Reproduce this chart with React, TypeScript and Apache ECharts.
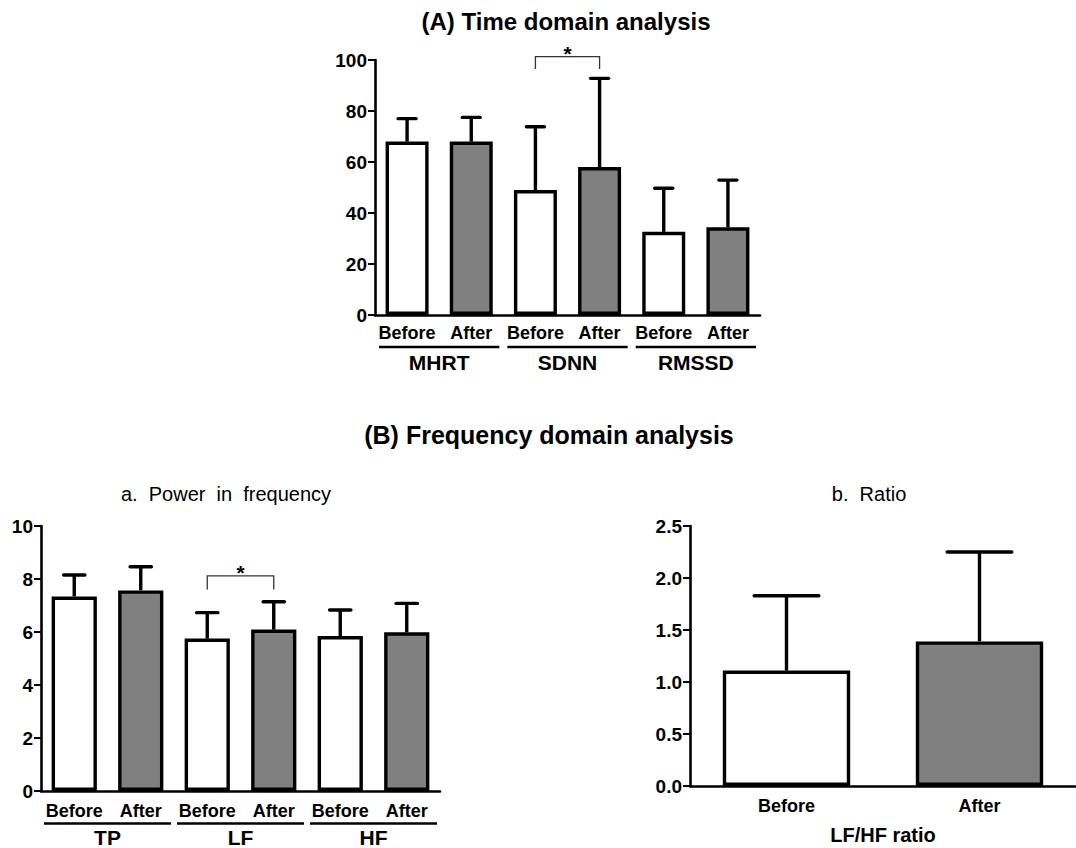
import React, { useEffect, useRef } from "react";
import * as echarts from "echarts";

const FONT = "'Liberation Sans', Arial, Helvetica, sans-serif";

// ---- Data ----
const phases = ["Before", "After"];
const phaseColors = ["#ffffff", "#808080"];

// (A) Time domain analysis
const timeGroups = ["MHRT", "SDNN", "RMSSD"];
const timeBeforeMean = [68.0, 49.0, 32.6];
const timeBeforeSD = [9.0, 24.8, 17.1];
const timeAfterMean = [68.0, 58.0, 34.4];
const timeAfterSD = [9.5, 34.8, 18.5];
const timeAxisMax = 100;
const timeAxisInterval = 20;
const timeSigPair = [2, 3]; // SDNN Before vs After
const timeSigLevel = [101.3, 96.5]; // bracket top, leg bottom

// (B) a. Power in frequency
const freqGroups = ["TP", "LF", "HF"];
const freqBeforeMean = [7.34, 5.75, 5.85];
const freqBeforeSD = [0.81, 0.98, 0.98];
const freqAfterMean = [7.57, 6.09, 5.99];
const freqAfterSD = [0.89, 1.05, 1.09];
const freqAxisMax = 10;
const freqAxisInterval = 2;
const freqSigPair = [2, 3]; // LF Before vs After
const freqSigLevel = [8.12, 7.6];

// (B) b. Ratio
const ratioCategories = ["Before", "After"];
const ratioMean = [1.11, 1.39];
const ratioSD = [0.72, 0.86];
const ratioAxisMax = 2.5;
const ratioAxisInterval = 0.5;

// ---- helpers ----
function interleave(groups: string[], before: number[], after: number[]) {
  const cats: string[] = [];
  const vals: number[] = [];
  const colors: string[] = [];
  groups.forEach((g, k) => {
    cats.push(`${g}|${phases[0]}`);
    vals.push(before[k]);
    colors.push(phaseColors[0]);
    cats.push(`${g}|${phases[1]}`);
    vals.push(after[k]);
    colors.push(phaseColors[1]);
  });
  return { cats, vals, colors };
}

function barSeries(gi: number, vals: number[], colors: string[], barWidth: string) {
  return {
    type: "bar",
    xAxisIndex: gi,
    yAxisIndex: gi,
    barWidth,
    z: 2,
    data: vals.map((v, i) => ({
      value: v,
      itemStyle: { color: colors[i], borderColor: "#000", borderWidth: 3.4 },
    })),
  };
}

function errorSeries(gi: number, means: number[], sds: number[], capRatio: number) {
  return {
    type: "custom",
    xAxisIndex: gi,
    yAxisIndex: gi,
    z: 5,
    silent: true,
    encode: { x: 0, y: 1 },
    data: means.map((m, i) => [i, m + sds[i], m]),
    renderItem: (params: any, api: any) => {
      const i = api.value(0);
      const up = api.value(1);
      const m = api.value(2);
      const p0 = api.coord([i, m]);
      const p1 = api.coord([i, up]);
      const half = (api.size([1, 0])[0] * capRatio) / 2;
      return {
        type: "group",
        children: [
          {
            type: "line",
            shape: { x1: p0[0], y1: p0[1], x2: p1[0], y2: p1[1] },
            style: { stroke: "#000", lineWidth: 3.4 },
          },
          {
            type: "line",
            shape: { x1: p1[0] - half, y1: p1[1], x2: p1[0] + half, y2: p1[1] },
            style: { stroke: "#000", lineWidth: 3.4, lineCap: "round" },
          },
        ],
      };
    },
  };
}

function groupSeries(gi: number, groups: string[], inset: number, lineOffset: number, textOffset: number) {
  return {
    type: "custom",
    xAxisIndex: gi,
    yAxisIndex: gi,
    silent: true,
    encode: { x: 0, y: 1 },
    data: groups.map((g, k) => [2 * k, 0, 2 * k + 1]),
    renderItem: (params: any, api: any) => {
      const a = api.coord([api.value(0), 0]);
      const b = api.coord([api.value(2), 0]);
      const band = api.size([1, 0])[0];
      const x0 = a[0] - band / 2 + inset;
      const x1 = b[0] + band / 2 - inset;
      const y = a[1] + lineOffset;
      return {
        type: "group",
        children: [
          {
            type: "line",
            shape: { x1: x0, y1: y, x2: x1, y2: y },
            style: { stroke: "#000", lineWidth: 2.6 },
          },
          {
            type: "text",
            x: (x0 + x1) / 2,
            y: y + textOffset,
            style: {
              text: groups[params.dataIndex],
              fontSize: 21,
              fontWeight: "bold",
              fontFamily: FONT,
              fill: "#000",
              align: "center",
              verticalAlign: "middle",
            },
          },
        ],
      };
    },
  };
}

function sigSeries(gi: number, pair: number[], level: number[]) {
  return {
    type: "custom",
    xAxisIndex: gi,
    yAxisIndex: gi,
    silent: true,
    z: 6,
    encode: { x: 0, y: 1 },
    data: [[pair[0], level[0], pair[1], level[1]]],
    renderItem: (params: any, api: any) => {
      const a = api.coord([api.value(0), api.value(1)]);
      const b = api.coord([api.value(2), api.value(1)]);
      const leg = api.coord([api.value(0), api.value(3)]);
      return {
        type: "group",
        children: [
          {
            type: "polyline",
            shape: {
              points: [
                [a[0], leg[1]],
                [a[0], a[1]],
                [b[0], b[1]],
                [b[0], leg[1]],
              ],
            },
            style: { stroke: "#333", lineWidth: 1.3, fill: null },
          },
          {
            type: "text",
            x: (a[0] + b[0]) / 2,
            y: a[1] - 3,
            style: {
              text: "*",
              fontSize: 21,
              fontWeight: "bold",
              fontFamily: FONT,
              fill: "#000",
              align: "center",
              verticalAlign: "middle",
            },
          },
        ],
      };
    },
  };
}

function xAxis(gi: number, cats: string[], margin: number, split: boolean, extra: any = {}) {
  return {
    gridIndex: gi,
    type: "category",
    data: cats,
    axisLine: { lineStyle: { color: "#000", width: 2.6 } },
    axisTick: { alignWithLabel: true, length: 7, lineStyle: { color: "#000", width: 2 } },
    axisLabel: {
      color: "#000",
      fontWeight: "bold",
      fontSize: 18,
      fontFamily: FONT,
      margin,
      interval: 0,
      formatter: (v: string) => (split ? v.split("|")[1] : v),
    },
    splitLine: { show: false },
    ...extra,
  };
}

function yAxis(gi: number, max: number, interval: number, decimals: number) {
  return {
    gridIndex: gi,
    type: "value",
    min: 0,
    max,
    interval,
    axisLine: { show: true, lineStyle: { color: "#000", width: 2.6 } },
    axisTick: { show: true, length: 7, lineStyle: { color: "#000", width: 2 } },
    splitLine: { show: false },
    axisLabel: {
      color: "#000",
      fontWeight: "bold",
      fontSize: 19,
      fontFamily: FONT,
      margin: 8,
      formatter: (v: number) => v.toFixed(decimals),
    },
  };
}

export default function App() {
  const ref = useRef<HTMLDivElement>(null);

  useEffect(() => {
    if (!ref.current) return;
    const chart = echarts.init(ref.current, undefined, { renderer: "svg" });

    const time = interleave(timeGroups, timeBeforeMean, timeAfterMean);
    const timeSD = interleave(timeGroups, timeBeforeSD, timeAfterSD).vals;
    const freq = interleave(freqGroups, freqBeforeMean, freqAfterMean);
    const freqSD = interleave(freqGroups, freqBeforeSD, freqAfterSD).vals;

    const titleStyle = (text: string, x: number, y: number, size: number, bold: boolean) => ({
      type: "text",
      x,
      y,
      style: {
        text,
        fontSize: size,
        fontWeight: bold ? "bold" : "normal",
        fontFamily: FONT,
        fill: "#000",
        align: "center",
        verticalAlign: "middle",
      },
    });

    chart.setOption({
      animation: false,
      backgroundColor: "#ffffff",
      grid: [
        { left: 375, top: 60, width: 385, height: 255 },
        { left: 41, top: 526, width: 399, height: 265 },
        { left: 690, top: 526, width: 393, height: 260 },
      ],
      xAxis: [
        xAxis(0, time.cats, 9, true),
        xAxis(1, freq.cats, 11, true),
        xAxis(2, ratioCategories, 11, false, {
          name: "LF/HF ratio",
          nameLocation: "middle",
          nameGap: 39,
          nameTextStyle: { color: "#000", fontWeight: "bold", fontSize: 20, fontFamily: FONT },
        }),
      ],
      yAxis: [
        yAxis(0, timeAxisMax, timeAxisInterval, 0),
        yAxis(1, freqAxisMax, freqAxisInterval, 0),
        yAxis(2, ratioAxisMax, ratioAxisInterval, 1),
      ],
      graphic: [
        titleStyle("(A) Time domain analysis", 566, 21, 24, true),
        titleStyle("(B) Frequency domain analysis", 549, 435, 25, true),
        titleStyle("a.  Power  in  frequency", 226, 494, 20, false),
        titleStyle("b.  Ratio", 869, 494, 20, false),
      ],
      series: [
        barSeries(0, time.vals, time.colors, "67%"),
        errorSeries(0, time.vals, timeSD, 0.28),
        groupSeries(0, timeGroups, 4, 32, 15),
        sigSeries(0, timeSigPair, timeSigLevel),

        barSeries(1, freq.vals, freq.colors, "68%"),
        errorSeries(1, freq.vals, freqSD, 0.32),
        groupSeries(1, freqGroups, 3, 32.5, 14),
        sigSeries(1, freqSigPair, freqSigLevel),

        barSeries(2, ratioMean, phaseColors, "66%"),
        errorSeries(2, ratioMean, ratioSD, 0.335),
      ],
    });

    return () => chart.dispose();
  }, []);

  return (
    <div
      ref={ref}
      style={{ position: "absolute", left: 0, top: 0, width: 1076, height: 848, background: "#fff" }}
    />
  );
}
